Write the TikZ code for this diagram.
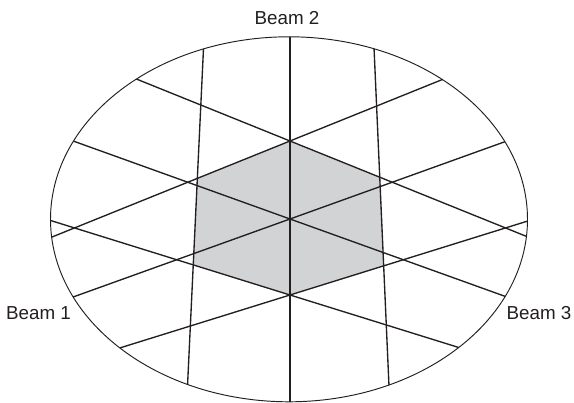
\documentclass[tikz,border=0pt]{standalone}
\usepackage{fontspec}
\setmainfont{Liberation Sans}
\definecolor{ink}{RGB}{35,31,32}
\definecolor{hexgrey}{RGB}{209,211,212}
\begin{document}
\begin{tikzpicture}[x=1pt,y=-1pt,line join=round,
  gridline/.style={line width=1.35pt, draw=ink},
  rim/.style={line width=0.95pt, draw=ink},
  beamlabel/.style={font=\fontsize{18.8}{21}\selectfont, anchor=base, inner sep=0pt, text=ink}]
\useasboundingbox (0,0) rectangle (574,403);
% centre points
\coordinate (O) at (290,219);
% vertical fan (Beam 2)
\coordinate (Va) at (290,0);    \coordinate (Vb) at (290,420);
\coordinate (VLa) at (205.8,0); \coordinate (VLb) at (185.9,420);
\coordinate (VRa) at (371.9,0); \coordinate (VRb) at (390.5,420);
% rising fan
\coordinate (R1a) at (30,245.9); \coordinate (R1b) at (550,36.1);
\coordinate (R2a) at (30,312.5); \coordinate (R2b) at (550,125.5);
\coordinate (R3a) at (30,375.9); \coordinate (R3b) at (550,214.1);
% falling fan
\coordinate (F1a) at (30,36.1);  \coordinate (F1b) at (550,245.9);
\coordinate (F2a) at (30,125.5); \coordinate (F2b) at (550,312.5);
\coordinate (F3a) at (30,214.1); \coordinate (F3b) at (550,375.9);
% hexagon vertices
\coordinate (HT) at (intersection of R1a--R1b and Va--Vb);
\coordinate (HUR) at (intersection of F1a--F1b and VRa--VRb);
\coordinate (HLR) at (intersection of R3a--R3b and VRa--VRb);
\coordinate (HB) at (intersection of F3a--F3b and Va--Vb);
\coordinate (HLL) at (intersection of F3a--F3b and VLa--VLb);
\coordinate (HUL) at (intersection of R1a--R1b and VLa--VLb);
\fill[hexgrey] (HT) -- (HUR) -- (HLR) -- (HB) -- (HLL) -- (HUL) -- cycle;
\begin{scope}
  \clip (289,219.3) ellipse [x radius=238.5pt, y radius=182.5pt];
  \draw[gridline] (Va) -- (Vb);
  \draw[gridline] (VLa) -- (VLb);
  \draw[gridline] (VRa) -- (VRb);
  \draw[gridline] (R1a) -- (R1b);
  \draw[gridline] (R2a) -- (R2b);
  \draw[gridline] (R3a) -- (R3b);
  \draw[gridline] (F1a) -- (F1b);
  \draw[gridline] (F2a) -- (F2b);
  \draw[gridline] (F3a) -- (F3b);
\end{scope}
\draw[rim] (289,219.3) ellipse [x radius=238.5pt, y radius=182.5pt];
\node[beamlabel] (b2) at (287,25) {Beam 2};
\node[beamlabel] (b1) at (38.5,319.5) {Beam 1};
\node[beamlabel] (b3) at (539,320) {Beam 3};
\end{tikzpicture}
\end{document}
